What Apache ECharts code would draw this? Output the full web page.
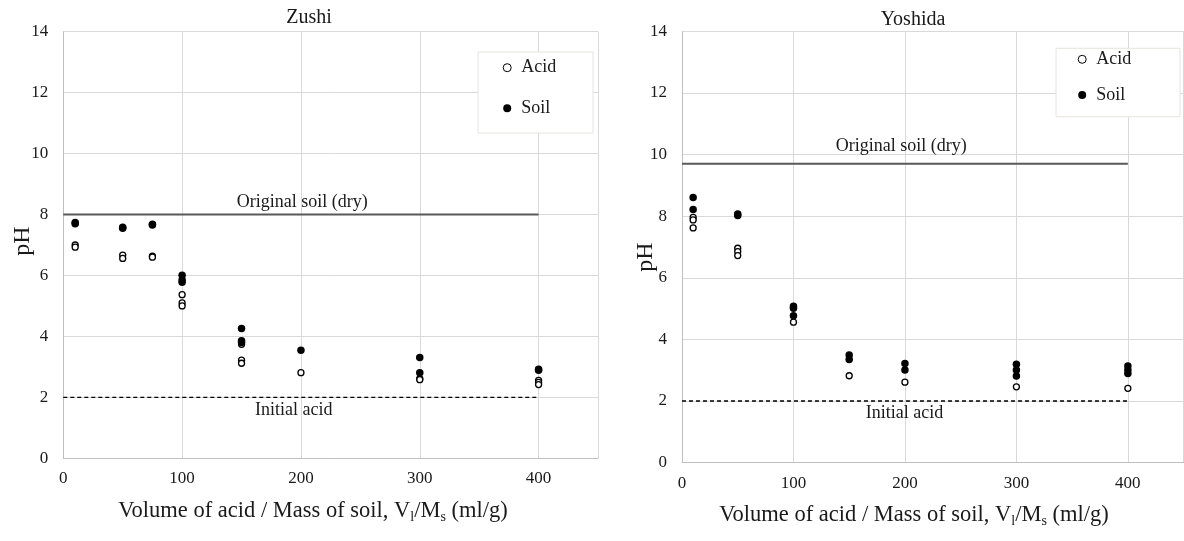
<!DOCTYPE html>
<html>
<head>
<meta charset="utf-8">
<script src="https://cdn.jsdelivr.net/npm/echarts@6/dist/echarts.min.js"></script>
<style>
  html, body { margin: 0; padding: 0; background: #fff; }
  #chart { width: 1184px; height: 541px; }
</style>
</head>
<body>
<div id="chart"></div>
<script>
// pH of the acid and of the soil after mixing, per volume/mass ratio (ml/g)
const zushiAcid = [
  [10, 7.00], [10, 6.93], [50, 6.67], [50, 6.56], [75, 6.63], [75, 6.60],
  [100, 5.37], [100, 5.10], [100, 5.00], [150, 3.74], [150, 3.22], [150, 3.12],
  [200, 2.81], [300, 2.61], [300, 2.58], [400, 2.56], [400, 2.49], [400, 2.42]
];
const zushiSoil = [
  [10, 7.74], [10, 7.70], [50, 7.58], [50, 7.55], [75, 7.68], [75, 7.66],
  [100, 6.01], [100, 5.85], [100, 5.78], [150, 4.26], [150, 3.86], [150, 3.80],
  [200, 3.55], [300, 3.31], [300, 2.81], [400, 2.92], [400, 2.89]
];
const yoshidaAcid = [
  [10, 7.96], [10, 7.88], [10, 7.62], [50, 6.96], [50, 6.85], [50, 6.72],
  [100, 4.56], [150, 2.82], [200, 2.61], [300, 2.46], [400, 2.41]
];
const yoshidaSoil = [
  [10, 8.61], [10, 8.22], [50, 8.07], [50, 8.02], [100, 5.08], [100, 5.01], [100, 4.77],
  [150, 3.49], [150, 3.35], [200, 3.22], [200, 3.01], [300, 3.19], [300, 3.01], [300, 2.81],
  [400, 3.14], [400, 3.01], [400, 2.89]
];

// Reference levels
const zushiOriginalSoil = 8.0;
const yoshidaOriginalSoil = 9.7;
const initialAcid = 2.0;
const refRange = [0, 400];

const siteNames = ['Zushi', 'Yoshida'];
const seriesNames = ['Acid', 'Soil'];
const xTitle = 'Volume of acid / Mass of soil, V{sub|l}/M{sub|s} (ml/g)';
const yTitle = 'pH';
const originalLabel = 'Original soil (dry)';
const acidLabel = 'Initial acid';

const FONT = '"Liberation Serif", "Times New Roman", serif';
const TEXT = '#1a1a1a';

const chart = echarts.init(document.getElementById('chart'), null, { renderer: 'canvas' });

function xAxisCfg(gridIndex) {
  return {
    type: 'value', gridIndex, min: 0, max: 450, interval: 100,
    axisLine: { show: true, onZero: false, lineStyle: { color: '#bfbfbf', width: 1 } },
    axisTick: { show: false },
    axisLabel: { fontFamily: FONT, fontSize: 17, color: TEXT, margin: 12, showMaxLabel: false },
    splitLine: { show: true, lineStyle: { color: '#d9d9d9', width: 1 } }
  };
}
function yAxisCfg(gridIndex) {
  return {
    type: 'value', gridIndex, min: 0, max: 14, interval: 2,
    axisLine: { show: true, lineStyle: { color: '#bfbfbf', width: 1 } },
    axisTick: { show: false },
    axisLabel: { fontFamily: FONT, fontSize: 17, color: TEXT, margin: 15 },
    splitLine: { show: true, lineStyle: { color: '#d9d9d9', width: 1 } }
  };
}
function refLine(idx, level, dashed) {
  return {
    type: 'line', xAxisIndex: idx, yAxisIndex: idx, silent: true,
    data: [[refRange[0], level], [refRange[1], level]],
    symbol: 'none', z: 1,
    lineStyle: dashed
      ? { color: '#000', width: 1.3, type: [4, 3] }
      : { color: '#595959', width: 2 }
  };
}
function acidSeries(idx, data) {
  return {
    name: seriesNames[0], type: 'scatter', xAxisIndex: idx, yAxisIndex: idx, data,
    symbol: 'circle', symbolSize: 6, z: 3,
    itemStyle: { color: '#fff', borderColor: '#000', borderWidth: 1.3, opacity: 1 }
  };
}
function soilSeries(idx, data) {
  return {
    name: seriesNames[1], type: 'scatter', xAxisIndex: idx, yAxisIndex: idx, data,
    symbol: 'circle', symbolSize: 7.5, z: 4,
    itemStyle: { color: '#000', borderWidth: 0, opacity: 1 }
  };
}
function legendCfg(left, top, gap) {
  return {
    orient: 'vertical', left, top, itemGap: gap, z: 20,
    itemWidth: 8, itemHeight: 8, icon: 'circle',
    textStyle: { fontFamily: FONT, fontSize: 18, color: TEXT, lineHeight: 20, padding: [0, 0, 0, 5] },
    data: [
      { name: seriesNames[0], itemStyle: { borderWidth: 1 } },
      { name: seriesNames[1] }
    ],
    selectedMode: false
  };
}

const grids = [
  { left: 63.3, top: 31.7, width: 534.7, height: 426.6 },
  { left: 682, top: 31.4, width: 501.6, height: 431.2 }
];

chart.setOption({
  animation: false,
  backgroundColor: '#fff',
  grid: grids.map(g => Object.assign({ show: false }, g)),
  xAxis: [xAxisCfg(0), xAxisCfg(1)],
  yAxis: [yAxisCfg(0), yAxisCfg(1)],
  legend: [
    Object.assign(legendCfg(497.7, 52.7, 20.6), { id: 'lg0' }),
    Object.assign(legendCfg(1072.7, 44.3, 15.7), { id: 'lg1' })
  ],
  series: [
    refLine(0, zushiOriginalSoil, false),
    refLine(0, initialAcid, true),
    acidSeries(0, zushiAcid),
    soilSeries(0, zushiSoil),
    refLine(1, yoshidaOriginalSoil, false),
    refLine(1, initialAcid, true),
    acidSeries(1, yoshidaAcid),
    soilSeries(1, yoshidaSoil)
  ]
});

// Annotation texts anchored to the reference levels
function px(idx, x, y) {
  return chart.convertToPixel({ xAxisIndex: idx, yAxisIndex: idx }, [x, y]);
}
function label(text, pos, size, extra) {
  return {
    type: 'text', x: pos[0], y: pos[1], z: 10,
    style: Object.assign({
      text, fontFamily: FONT, fontSize: size, fill: TEXT,
      textAlign: 'center', textVerticalAlign: 'middle'
    }, extra || {})
  };
}
const subRich = { sub: { fontFamily: FONT, fontSize: 14, fill: TEXT, padding: [12, 0, 0, 0] } };

const zo = px(0, 201, zushiOriginalSoil);
const za = px(0, 194, initialAcid);
const yo = px(1, 196.6, yoshidaOriginalSoil);
const ya = px(1, 199.7, initialAcid);

const yLabelL = label(yTitle, [23, 241], 24);
const yLabelR = label(yTitle, [645.5, 257], 24);
yLabelL.rotation = Math.PI / 2;
yLabelR.rotation = Math.PI / 2;

chart.setOption({
  graphic: [
    // legend frames, drawn beneath the legend items
    { type: 'rect', shape: { x: 478, y: 52, width: 115, height: 81 }, z: 5,
      style: { fill: '#fff', stroke: '#e6e4de', lineWidth: 1 } },
    { type: 'rect', shape: { x: 1056, y: 48.3, width: 124, height: 68.4 }, z: 5,
      style: { fill: '#fff', stroke: '#e6e4de', lineWidth: 1 } },
    label(siteNames[0], [309, 18], 20),
    label(siteNames[1], [913, 19.3], 20),
    label(originalLabel, [zo[0], zo[1] - 12], 18),
    label(acidLabel, [za[0], za[1] + 12.7], 18),
    label(originalLabel, [yo[0], yo[1] - 18], 18),
    label(acidLabel, [ya[0], ya[1] + 12.6], 18),
    yLabelL,
    yLabelR,
    label(xTitle, [313, 511], 22.5, { rich: subRich }),
    label(xTitle, [914, 515], 22.5, { rich: subRich })
  ]
});
</script>
</body>
</html>
